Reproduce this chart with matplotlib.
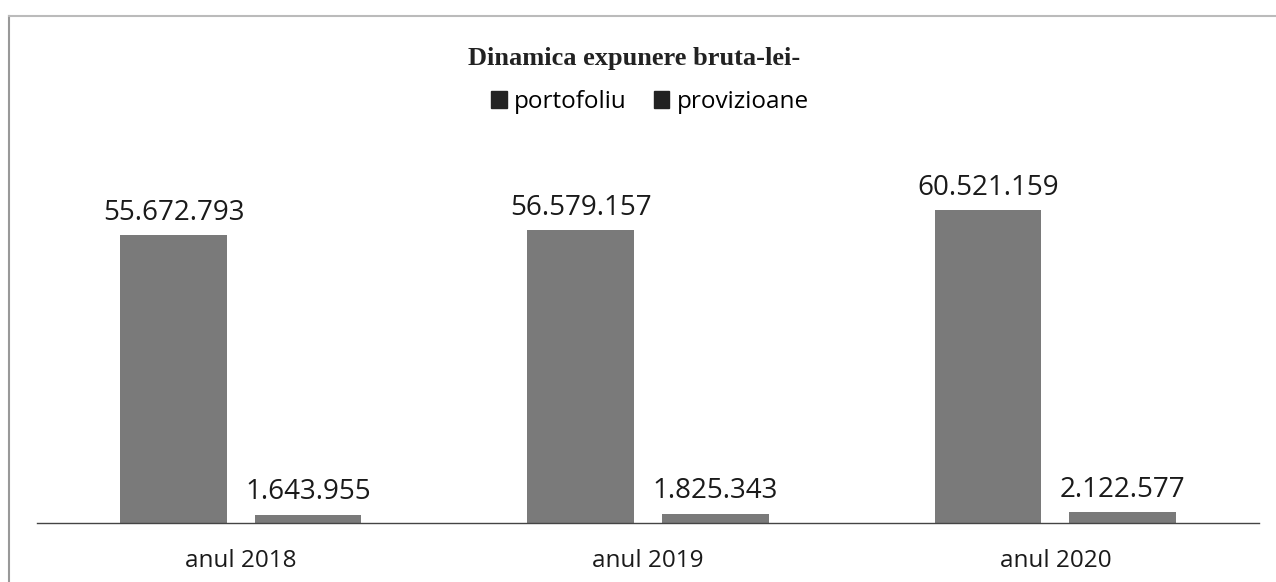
import matplotlib
matplotlib.use("Agg")
import matplotlib.pyplot as plt
import numpy as np
from matplotlib.patches import Patch

categories = ["anul 2018", "anul 2019", "anul 2020"]
portofoliu = [55672793, 56579157, 60521159]
provizioane = [1643955, 1825343, 2122577]
series_names = ["portofoliu", "provizioane"]
title = "Dinamica expunere bruta-lei-"

def fmt(v):
    return f"{v:,}".replace(",", ".")

W, H = 1276, 582
fig = plt.figure(figsize=(W/100, H/100), dpi=100)
ax = fig.add_axes([37/W, 1-523/H, (1259-37)/W, (523-150)/H])

x = np.arange(len(categories))
bw = 0.262
off = 0.165
bar_color = "#7a7a7a"
b1 = ax.bar(x - off, portofoliu, bw, color=bar_color)
b2 = ax.bar(x + off, provizioane, bw, color=bar_color)
lab_font = "Open Sans"
for bars, vals in ((b1, portofoliu), (b2, provizioane)):
    for r, v in zip(bars, vals):
        ax.annotate(fmt(v), (r.get_x() + r.get_width()/2, v), xytext=(0, 6),
                    textcoords="offset points", ha="center", va="bottom",
                    fontsize=20, family=lab_font, color="#1a1a1a")

ax.set_xlim(-0.5, 2.5)
ax.set_ylim(0, 373/5.17*1e6)
ax.set_xticks(x)
ax.set_xticklabels(categories, fontsize=17.5, family=lab_font, color="#1a1a1a")
ax.tick_params(axis="x", length=0, pad=19)
ax.set_yticks([])
for s in ("top", "right", "left"):
    ax.spines[s].set_visible(False)
ax.spines["bottom"].set_color("#444444")
ax.spines["bottom"].set_linewidth(1.0)

fig.text(634/W, 1-58/H, title, ha="center", va="center", fontsize=19,
         family="Liberation Serif", fontweight="bold", color="#222222")

handles = [Patch(color="#222222"), Patch(color="#222222")]
fig.legend(handles, series_names, loc="center", bbox_to_anchor=(650/W, 1-102/H),
           ncol=2, frameon=False, prop={"family": lab_font, "size": 17.5},
           handlelength=0.65, handleheight=0.65, handletextpad=0.3, columnspacing=1.1)

# border lines
fig.add_artist(plt.Line2D([9/W, 9/W], [0, 1-16/H], color="#999999", lw=1.5))
fig.add_artist(plt.Line2D([9/W, 1], [1-16/H, 1-16/H], color="#bbbbbb", lw=1.5))

fig.savefig("out.png", dpi=100)
